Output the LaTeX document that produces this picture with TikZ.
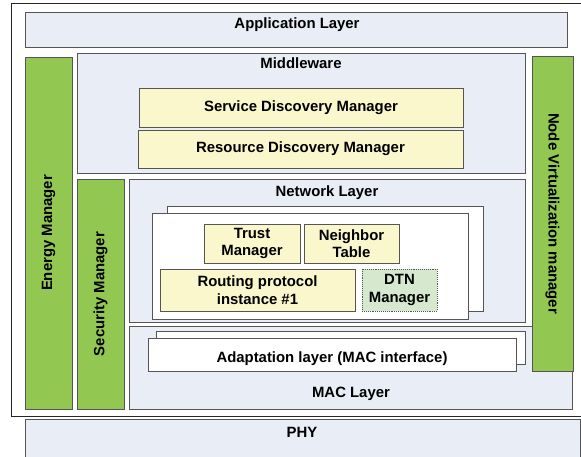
\documentclass[tikz,border=0pt]{standalone}
\usepackage{fontspec}
\setmainfont{Liberation Sans}
\usetikzlibrary{fit}
\definecolor{layerfill}{RGB}{233,238,246}
\definecolor{mgrgreen}{RGB}{146,200,82}
\definecolor{compyellow}{RGB}{250,247,205}
\definecolor{dtngreen}{RGB}{214,232,206}
\definecolor{edgegray}{RGB}{85,85,85}
\begin{document}
\begin{tikzpicture}[x=1pt,y=-1pt,
  every node/.style={font=\fontsize{14.9}{17.5}\selectfont\bfseries, text=black},
  boxbase/.style={inner sep=0pt, outer sep=0pt, line width=0.9pt, draw=edgegray},
  layerbox/.style={boxbase, fill=layerfill},
  mgrbox/.style={boxbase, fill=mgrgreen},
  compbox/.style={boxbase, fill=compyellow},
  dtnbox/.style={boxbase, fill=dtngreen, densely dotted},
  whitebox/.style={boxbase, fill=white},
  frameline/.style={draw=black!85, line width=0.8pt},
  lbl/.style={inner sep=0pt, anchor=base, align=center},
  ctr/.style={inner sep=0pt, align=center},
]
\useasboundingbox (0,0) rectangle (581,456);
% outer frame (right side lies outside the picture) and PHY
\coordinate (frameTR) at (600,3);
\coordinate (frameBR) at (600,416);
\draw[frameline] (frameTR) -| (11,416) -- (frameBR);
\node[layerbox, fit={(25,419) (580,470)}] (phy) {};
\node[lbl] (phytxt) at (302,437) {PHY};
% application layer
\node[layerbox, fit={(25,12) (567,47)}] (app) {};
\node[lbl] (apptxt) at (297,28) {Application Layer};
% energy manager
\node[mgrbox, fit={(25,57) (72,409)}] (energy) {};
\node[ctr, rotate=90] (energytxt) at (energy.center) {Energy Manager};
% middleware
\node[layerbox, fit={(77,53) (525,173)}] (mw) {};
\node[lbl] (mwtxt) at (301,68.5) {Middleware};
\node[compbox, fit={(139,88) (463,127)}] (sdm) {};
\node[ctr] (sdmtxt) at (sdm.center) {Service Discovery Manager};
\node[compbox, fit={(138,130) (463,168)}] (rdm) {};
\node[ctr] (rdmtxt) at (rdm.center) {Resource Discovery Manager};
% MAC layer (under node virtualization manager)
\node[layerbox, fit={(129,326) (572,409)}] (mac) {};
\node[lbl] (mactxt) at (351,397) {MAC Layer};
% node virtualization manager
\node[mgrbox, fit={(532,56) (573,371)}] (nvm) {};
\node[ctr, rotate=-90] (nvmtxt) at (nvm.center) {Node Virtualization manager};
% security manager
\node[mgrbox, fit={(77,179) (124,409)}] (sec) {};
\node[ctr, rotate=90] (sectxt) at (sec.center) {Security Manager};
% network layer
\node[layerbox, fit={(129,179) (525,322)}] (net) {};
\node[lbl] (nettxt) at (327,196) {Network Layer};
\node[whitebox, fit={(167,206) (483,311)}] (instback) {};
\node[whitebox, fit={(152,213) (468,319)}] (inst) {};
\node[compbox, fit={(204,224) (300,263)}] (trust) {};
\node[ctr] (trusttxt) at (trust.center) {Trust\\Manager};
\node[compbox, fit={(304,224) (399,263)}] (neigh) {};
\node[ctr] (neightxt) at (neigh.center) {Neighbor\\Table};
\node[compbox, fit={(160,269) (355,311)}] (route) {};
\node[ctr] (routetxt) at (route.center) {Routing protocol\\instance \#1};
\node[dtnbox, fit={(362,269) (437,311)}] (dtn) {};
\node[ctr] (dtntxt) at (dtn.center) {DTN\\Manager};
% adaptation layer
\node[whitebox, fit={(156,331) (525,364)}] (adaptback) {};
\node[whitebox, fit={(148,338) (516,371)}] (adapt) {};
\node[ctr] (adapttxt) at ([yshift=-4pt]adapt.center) {Adaptation layer (MAC interface)};
\end{tikzpicture}
\end{document}
